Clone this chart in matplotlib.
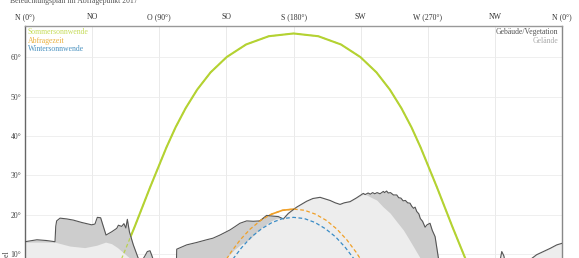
import matplotlib
matplotlib.use('Agg')
import matplotlib.pyplot as plt
import numpy as np

plt.rcParams['font.family'] = ['Liberation Serif', 'DejaVu Serif']

# Richtungen (obere Achse)
richtung_pos = [0, 45, 90, 135, 180, 225, 270, 315, 360]
richtung_lbl = ['N (0°)', 'NO', 'O (90°)', 'SO', 'S (180°)', 'SW', 'W (270°)', 'NW', 'N (0°)']
hoehe_ticks = [0, 10, 20, 30, 40, 50, 60]

# Sonnenbahnen: Azimut / Hoehe
sommer_az = [52.6, 63.4, 73.6, 83.9, 94.8, 100.9, 107.7, 115.4, 124.4, 135.2, 148.2, 163.4, 180.0,
             196.6, 211.8, 224.8, 235.6, 244.6, 252.3, 259.1, 265.2, 276.1, 286.4, 296.6, 307.4]
sommer_h = [-1.1, 7.5, 17.0, 27.0, 37.1, 42.2, 47.1, 51.8, 56.2, 60.1, 63.3, 65.4, 66.1,
            65.4, 63.3, 60.1, 56.2, 51.8, 47.1, 42.2, 37.1, 27.0, 17.0, 7.5, -1.1]

abfrage_az = [120.6, 126.1, 131.9, 138.0, 144.3, 150.9, 157.9, 165.2, 172.6, 180.0,
              187.4, 194.8, 202.1, 209.1, 215.7, 222.0, 228.1, 233.9, 239.4]
abfrage_h = [-1.4, 2.8, 6.8, 10.4, 13.6, 16.3, 18.5, 20.1, 21.1, 21.4,
             21.1, 20.1, 18.5, 16.3, 13.6, 10.4, 6.8, 2.8, -1.4]

winter_az = [121.9, 127.4, 133.1, 139.0, 145.2, 151.7, 158.6, 165.6, 172.8, 180.0,
             187.2, 194.4, 201.4, 208.3, 214.8, 221.0, 226.9, 232.6, 238.1]
winter_h = [-3.1, 1.1, 5.0, 8.5, 11.6, 14.3, 16.4, 18.0, 19.0, 19.3,
            19.0, 18.0, 16.4, 14.3, 11.6, 8.5, 5.0, 1.1, -3.1]

# Horizont Gebaeude/Vegetation
geb_az = [0, 8, 14.5, 20.1, 20.6, 21.2, 23.5, 28, 32.4, 38, 44.7, 46.9, 48.0, 48.5, 50.7, 52.0,
          54.3, 58, 61.5, 62.6, 64.8, 66.3, 67.6, 68.6, 70.0, 72.6, 76.0, 78, 80.4, 82, 83.8, 85,
          86, 90, 95, 101.5, 101.7, 108.4, 115, 121.8, 126, 130.7, 137.4, 141, 144.1, 148.6, 153,
          157.5, 160, 162, 164, 166.5, 169.8, 173.2, 176.5, 182.1, 188.8, 193, 197.8, 204.5, 208,
          211.2, 214, 217.9, 222, 226.8, 228, 230, 231.5, 233, 234.5, 236, 238, 240.2, 241, 242.4,
          243.5, 245, 247, 249.2, 250.5, 252, 253.5, 255, 256.5, 258.1, 259.3, 260.5, 261.5, 262.6,
          264, 265, 266.5, 268.2, 269.5, 271.5, 273, 274.9, 277.1, 280, 300, 318, 318.8, 319.6,
          321, 322, 330, 338.5, 343, 347.5, 352, 356.5, 360]
geb_h = [13.1, 13.6, 13.4, 13.1, 17.0, 18.4, 19.1, 18.9, 18.6, 18.0, 17.4, 17.6, 18.8, 19.3, 19.2, 17.6,
         14.8, 15.6, 16.5, 17.3, 17.0, 17.7, 16.6, 18.8, 15.6, 12.3, 8.8, 8.0, 9.5, 10.6, 10.8, 9.6,
         8.5, 7.5, 7.8, 8.0, 11.2, 12.3, 12.9, 13.6, 14.0, 14.8, 16.1, 17.0, 17.8, 18.4, 18.3,
         18.4, 19.2, 19.8, 19.7, 19.6, 19.5, 18.9, 20.3, 21.9, 23.4, 24.1, 24.4, 23.6, 23.0,
         22.6, 23.0, 23.3, 24.2, 25.4, 25.1, 25.5, 25.2, 25.6, 25.3, 25.6, 25.3, 25.9, 25.6, 26.0,
         25.5, 25.6, 25.0, 25.0, 24.3, 24.2, 23.5, 23.6, 23.0, 22.9, 22.1, 21.6, 21.9, 20.8,
         20.2, 19.0, 18.3, 16.8, 17.4, 17.8, 16.0, 14.4, 9.0, 6.5, 6.0, 7.0, 9.0, 10.6,
         9.5, 7.5, 6.5, 8.5, 9.8, 10.6, 11.4, 12.3, 12.7]

# Horizont Gelaende
gel_az = [0, 20, 25, 30, 40, 48, 54, 58, 62, 66, 70, 74, 80, 100, 120, 130, 135.2, 140, 145, 150.8,
          155, 159.7, 164, 168.7, 173.2, 176.5, 182.1, 188.8, 193, 197.8, 204.5, 208, 211.2, 214,
          217.9, 222, 226.8, 229, 232, 235.8, 240, 244.7, 249, 253.6, 257, 260.3, 264.8, 270, 280,
          300, 318, 318.8, 319.6, 321, 322, 330, 338.5, 343, 347.5, 352, 356.5, 360]
gel_h = [13.0, 13.0, 12.5, 12.0, 11.6, 12.2, 13.0, 12.6, 11.6, 10.3, 9.0, 7.0, 6.5, 6.5, 7.0, 8.0,
         9.0, 11.0, 12.5, 13.8, 15.5, 17.0, 18.2, 19.1, 18.9, 20.3, 21.9, 23.4, 24.1, 24.4, 23.6,
         23.0, 22.6, 23.0, 23.3, 24.2, 25.2, 25.0, 24.4, 23.7, 22.0, 20.4, 18.3, 16.1, 14.0, 11.9,
         9.0, 7.0, 6.0, 6.0, 7.0, 9.0, 10.6, 9.5, 7.5, 6.5, 8.5, 9.8, 10.6, 11.4, 12.3, 12.7]

gruen = '#b4d232'
orange = '#f0a028'
blau = '#3a8cc6'

fig = plt.figure(figsize=(5.79, 2.58), dpi=100)
ax = fig.add_axes([0.0432, -0.1364, 0.9275, 1.0356])
ax.set_xlim(0, 360)
ax.set_ylim(0, 68)

# Gitter
for x in richtung_pos:
    ax.axvline(x, color='#e6e6e6', lw=0.6, zorder=0)
for y in hoehe_ticks:
    ax.axhline(y, color='#ececec', lw=0.6, zorder=0)

# sichtbare Sonnenbahn (wird vom Horizont verdeckt)
ax.plot(sommer_az, sommer_h, color=gruen, lw=1.5, zorder=1, solid_capstyle='butt')
ax.plot(abfrage_az, abfrage_h, color=orange, lw=1.2, zorder=1)

# Horizonte
ax.fill_between(geb_az, 0, geb_h, color='#cdcdcd', lw=0, zorder=2)
ax.fill_between(gel_az, 0, np.minimum(gel_h, np.interp(gel_az, geb_az, geb_h)),
                color='#ededed', lw=0, zorder=2)
ax.plot(geb_az, geb_h, color='#555555', lw=0.8, zorder=3)

# verdeckte Teile gestrichelt
ax.plot(sommer_az, sommer_h, color=gruen, lw=0.9, ls=(0, (3, 2)), alpha=0.8, zorder=4)
ax.plot(abfrage_az, abfrage_h, color=orange, lw=0.9, ls=(0, (3, 2)), zorder=4)
ax.plot(winter_az, winter_h, color=blau, lw=0.9, ls=(0, (3, 2)), zorder=4)

# Achsen
ax.xaxis.tick_top()
ax.set_xticks(richtung_pos)
ax.set_xticklabels(richtung_lbl)
ax.set_yticks(hoehe_ticks)
ax.set_yticklabels([f'{v}°' for v in hoehe_ticks])
ax.tick_params(axis='x', length=0, pad=3.5, labelsize=5.6, labelcolor='#333333')
ax.tick_params(axis='y', length=0, pad=2.5, labelsize=5.6, labelcolor='#444444')
ax.spines['bottom'].set_visible(False)
ax.spines['left'].set_color('#666666')
ax.spines['left'].set_linewidth(1.0)
ax.spines['top'].set_color('#999999')
ax.spines['top'].set_linewidth(1.0)
ax.spines['right'].set_color('#888888')
ax.spines['right'].set_linewidth(1.0)

# Legende als Text
ax.text(2.0, 66.4, 'Sommersonnwende', color='#c6dc5a', fontsize=5.6, va='center', zorder=5)
ax.text(2.0, 64.2, 'Abfragezeit', color='#eab040', fontsize=5.6, va='center', zorder=5)
ax.text(2.0, 62.1, 'Wintersonnwende', color='#4a92c0', fontsize=5.6, va='center', zorder=5)
ax.text(357.5, 66.4, 'Gebäude/Vegetation', color='#555555', fontsize=5.6, va='center', ha='right', zorder=5)
ax.text(357.5, 64.2, 'Gelände', color='#aaaaaa', fontsize=5.6, va='center', ha='right', zorder=5)

fig.text(0.017, 0.988, 'Beleuchtungsplan im Abfragepunkt 2017', fontsize=5.6, color='#555555',
         va='baseline')
fig.text(0.004, 0.031, 'Höhenwinkel', rotation=90, fontsize=5.6, color='#444444', va='top', ha='left')

fig.savefig('out.png', dpi=100)
